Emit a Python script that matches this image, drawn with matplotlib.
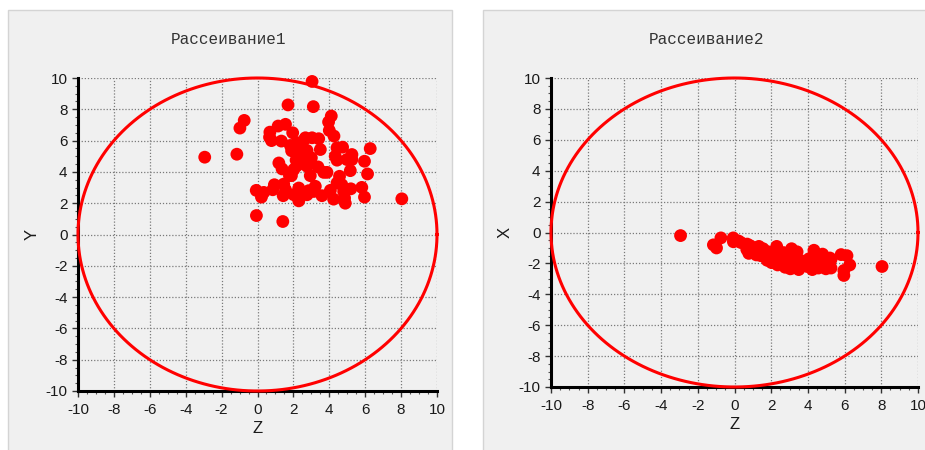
import numpy as np
import matplotlib
matplotlib.use("Agg")
import matplotlib.pyplot as plt
from matplotlib.patches import Rectangle
from matplotlib.ticker import MultipleLocator

plt.rcParams["font.family"] = ["Liberation Sans", "DejaVu Sans"]
plt.rcParams["axes.unicode_minus"] = False

# Observations: Z coordinate, with the matching Y and X coordinates
Z = [-2.94, -1.15, -0.98, -0.74, -0.07, -0.06, 0.22, 0.35, 0.67, 0.69,
     0.78, 0.85, 0.94, 1.15, 1.19, 1.33, 1.37, 1.41, 1.43, 1.46,
     1.56, 1.56, 1.70, 1.78, 1.83, 1.89, 1.96, 2.02, 2.02, 2.15,
     2.20, 2.30, 2.30, 2.30, 2.48, 2.48, 2.67, 2.76, 2.76, 2.76,
     2.94, 3.04, 3.04, 3.11, 3.13, 3.22, 3.37, 3.41, 3.50, 3.59,
     3.69, 3.87, 3.96, 4.00, 4.06, 4.11, 4.24, 4.26, 4.33, 4.43,
     4.43, 4.43, 4.57, 4.70, 4.74, 4.80, 4.85, 4.89, 4.98, 5.17,
     5.20, 5.26, 5.26, 5.81, 5.96, 5.96, 6.13, 6.28, 8.04,
     1.90, 2.20, 2.40, 2.55, 2.60, 3.00, 2.35, 2.85]
Y = [4.94, 5.13, 6.80, 7.29, 2.82, 1.21, 2.39, 2.69, 6.22, 6.54,
     6.00, 2.86, 3.18, 6.93, 4.57, 5.97, 4.19, 0.83, 2.48, 3.22,
     7.04, 2.86, 8.28, 3.76, 5.69, 3.76, 6.50, 2.54, 4.15, 4.75,
     5.86, 5.22, 2.97, 2.15, 4.57, 2.65, 6.18, 5.37, 4.36, 2.54,
     3.76, 9.78, 6.18, 8.17, 2.75, 3.08, 4.32, 6.12, 5.43, 2.48,
     3.97, 3.97, 7.19, 6.65, 2.82, 7.57, 2.26, 6.29, 5.00, 5.54,
     4.75, 3.29, 3.72, 3.18, 5.58, 2.75, 2.33, 2.00, 4.79, 4.08,
     2.92, 5.11, 4.79, 3.01, 4.68, 2.39, 3.87, 5.49, 2.28,
     5.35, 4.40, 5.60, 5.00, 6.05, 4.90, 2.55, 2.80]
X = [-0.20, -0.80, -1.00, -0.35, -0.35, -0.60, -0.55, -0.65, -1.10, -0.75,
     -1.35, -0.85, -1.20, -1.00, -1.45, -0.90, -1.30, -1.10, -1.50, -1.20,
     -1.05, -1.35, -1.60, -1.80, -1.25, -1.50, -1.40, -1.95, -1.60, -1.75,
     -1.30, -0.90, -1.60, -1.90, -1.45, -1.75, -1.30, -1.65, -2.00, -2.25,
     -1.55, -1.90, -2.35, -1.05, -2.30, -1.70, -2.00, -1.25, -2.40, -1.80,
     -2.15, -1.90, -2.20, -1.85, -1.70, -2.05, -2.40, -2.25, -1.15, -1.90,
     -2.10, -1.60, -2.30, -1.85, -2.05, -1.40, -2.20, -1.70, -2.35, -1.95,
     -1.65, -2.30, -1.75, -1.43, -2.46, -2.78, -1.50, -2.10, -2.20,
     -1.70, -1.50, -1.80, -1.55, -2.05, -1.35, -2.10, -1.85]

TICKS = list(range(-10, 11, 2))
RADIUS = 10

W, H = 925, 450
fig = plt.figure(figsize=(W / 100, H / 100), dpi=100)
fig.patch.set_facecolor("white")


def px_box(x0, y0, x1, y1):
    """Pixel box (top-left origin) -> figure-fraction rectangle."""
    return [x0 / W, 1 - y1 / H, (x1 - x0) / W, (y1 - y0) / H]


# panel backgrounds, kept underneath the axes
for x0, x1 in [(8, 452), (483, 926)]:
    l, b, w, h = px_box(x0, 10, x1, 451)
    fig.patches.append(Rectangle((l, b), w, h, transform=fig.transFigure,
                                 facecolor="#f0f0f0", edgecolor="#d4d4d4",
                                 linewidth=1.0, zorder=-10))

panels = [
    dict(box=(78, 78, 437, 391), ys=Y, ylabel="Y", title="Рассеивание1",
         tx=229),
    dict(box=(551, 78, 918, 387), ys=X, ylabel="X", title="Рассеивание2",
         tx=706),
]

theta = np.linspace(0, 2 * np.pi, 400)

for p in panels:
    ax = fig.add_axes(px_box(*p["box"]))
    ax.set_zorder(1)
    ax.set_facecolor("none")
    ax.set_xlim(-10, 10)
    ax.set_ylim(-10, 10)
    for s in ("top", "right"):
        ax.spines[s].set_visible(False)
    for s in ("left", "bottom"):
        ax.spines[s].set_linewidth(2.2)
        ax.spines[s].set_color("black")
        ax.spines[s].set_zorder(2)
    ax.set_xticks(TICKS)
    ax.set_yticks(TICKS)
    ax.set_xticklabels([str(t) for t in TICKS])
    ax.set_yticklabels([str(t) for t in TICKS])
    ax.xaxis.set_minor_locator(MultipleLocator(0.5))
    ax.yaxis.set_minor_locator(MultipleLocator(0.5))
    ax.tick_params(which="major", direction="out", length=4, width=1,
                   color="#333333", labelsize=11, labelcolor="#1a1a1a")
    ax.tick_params(axis="x", which="major", pad=4.5)
    ax.tick_params(axis="y", which="major", pad=3.5)
    ax.tick_params(which="minor", direction="out", length=2.5, width=0.8,
                   color="#555555")
    ax.grid(True, which="major", linestyle=(0, (1, 1.5)), color="#7a7a7a",
            linewidth=0.9)
    ax.set_axisbelow(True)

    ax.plot(RADIUS * np.cos(theta), RADIUS * np.sin(theta), color="#ff0000",
            linewidth=2.2, clip_on=False, zorder=4)
    ax.scatter(Z, p["ys"], s=85, color="#ff0000", edgecolors="none",
               zorder=5, clip_on=False)

    ax.set_xlabel("Z", fontsize=12, color="#1a1a1a", labelpad=3)
    ax.set_ylabel(p["ylabel"], fontsize=12, color="#1a1a1a", labelpad=4)

    fig.text(p["tx"] / W, 1 - 40 / H, p["title"], ha="center", va="center",
             fontsize=11.5, color="#333333",
             family=["Liberation Mono", "DejaVu Sans Mono"])

fig.savefig("out.png", dpi=100, facecolor=fig.get_facecolor())
